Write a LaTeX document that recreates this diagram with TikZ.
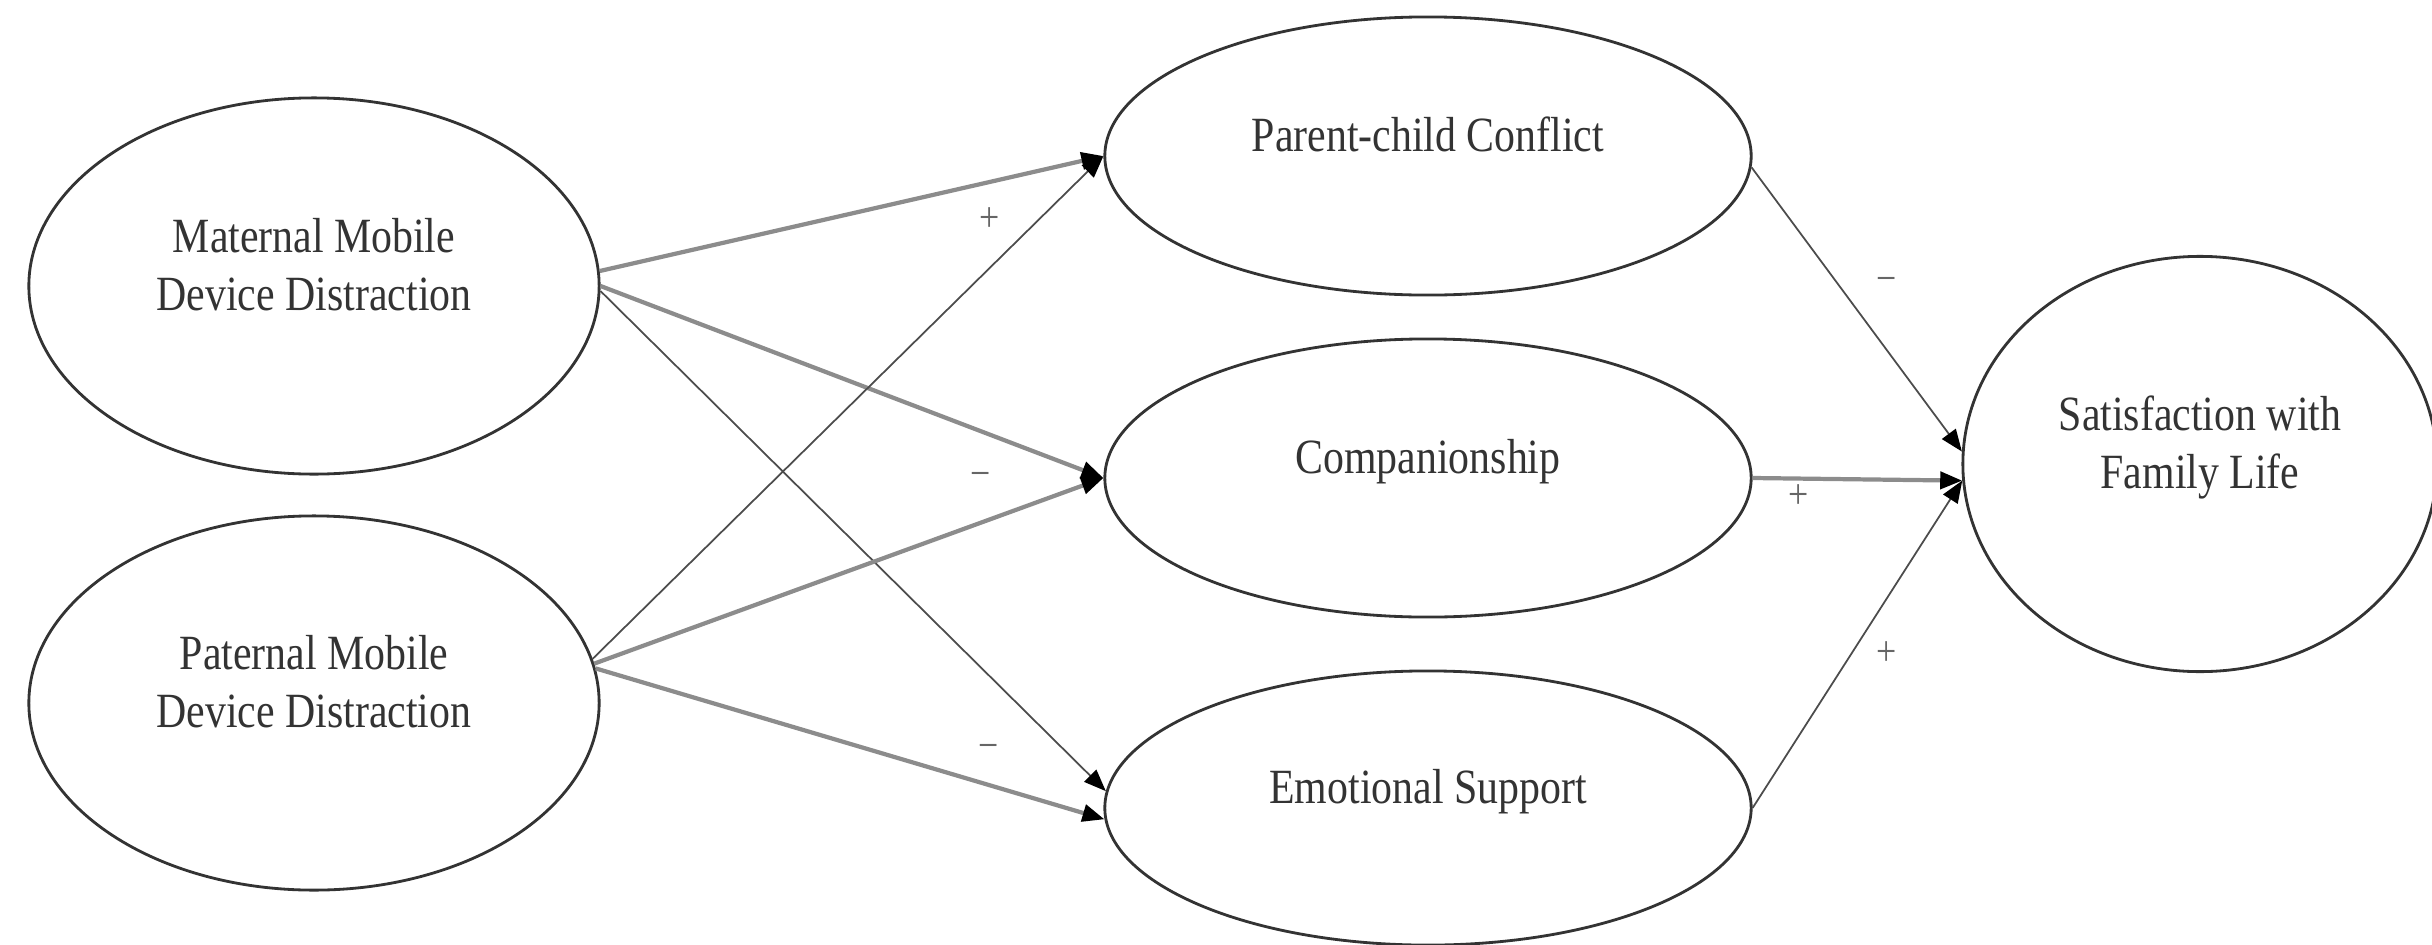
\documentclass[tikz,border=0pt]{standalone}
\usepackage{fontspec}
\setmainfont{Liberation Serif}[FakeStretch=0.85]
\usetikzlibrary{shapes.geometric}
\usetikzlibrary{arrows.meta}

\begin{document}
\begin{tikzpicture}[x=0.01cm, y=-0.01cm,
    construct/.style={draw=black!80, line width=0.8pt, ellipse, inner sep=0pt,
      align=center, text=black!80, font=\fontsize{14}{16.5}\selectfont, text depth=12.5pt},
    boldpath/.style={draw=black!45, line width=1.2pt, -{Triangle[length=2.2mm,width=1.7mm,color=black]}},
    finepath/.style={draw=black!70, line width=0.5pt, -{Triangle[length=2.2mm,width=1.7mm,color=black]}},
    sign/.style={text=black!60, font=\fontsize{12}{14}\selectfont}]
            \useasboundingbox (0,0) rectangle (2432,945);

            % Predictors on the left
            \node[construct, minimum width=5.7cm, minimum height=3.76cm] (mat) at (314,286) {Maternal Mobile\\Device Distraction};
            \node[construct, minimum width=5.7cm, minimum height=3.74cm] (pat) at (314,703) {Paternal Mobile\\Device Distraction};

            % Mediators in the middle
            \node[construct, minimum width=6.46cm, minimum height=2.78cm] (conf) at (1428,156) {Parent-child Conflict};
            \node[construct, minimum width=6.46cm, minimum height=2.78cm] (comp) at (1428,478) {Companionship};
            \node[construct, minimum width=6.46cm, minimum height=2.74cm] (emo) at (1428,808) {Emotional Support};

            % Outcome on the right
            \node[construct, minimum width=4.74cm, minimum height=4.15cm] (sat) at (2200,464) {Satisfaction with\\Family Life};

            % Paths from the predictors
            \draw[boldpath] (mat.3) -- (conf.west);
            \draw[boldpath] (mat.east) -- (comp.west);
            \draw[finepath] (mat.-1) -- (emo.177);
            \draw[finepath] (pat.9) -- (conf.west);
            \draw[boldpath] (pat.8) -- (comp.west);
            \draw[boldpath] (pat.7) -- (emo.182);

            % Paths to the outcome
            \draw[finepath] (conf.-2) -- (sat.177);
            \draw[boldpath] (comp.east) -- (sat.184);
            \draw[finepath] (emo.east) -- (sat.184);

            % Signs of the paths
            \node[sign] (s1) at (990,220) {+};
            \node[sign] (s2) at (981,480) {−};
            \node[sign] (s3) at (989,752) {−};
            \node[sign] (s4) at (1887,285) {−};
            \node[sign] (s5) at (1799,497) {+};
            \node[sign] (s6) at (1887,654) {+};

            \end{tikzpicture}
\end{document}
